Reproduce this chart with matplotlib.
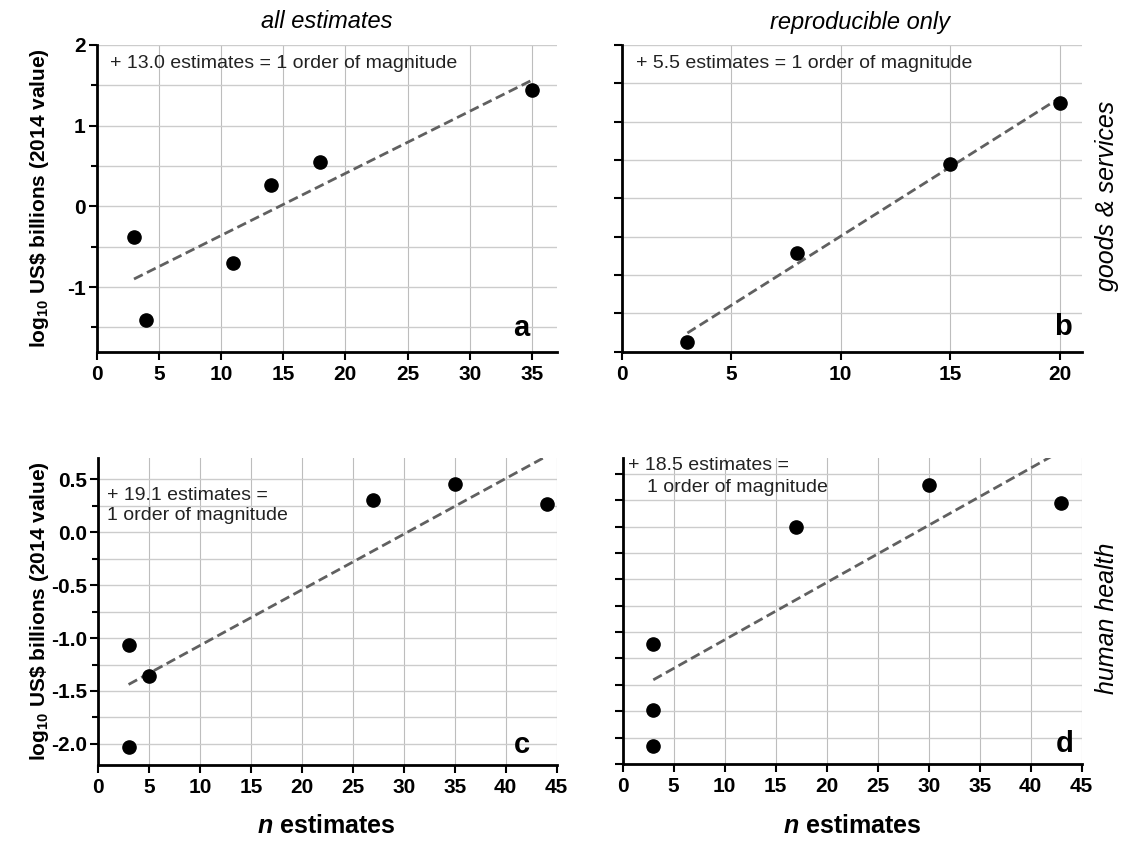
import numpy as np
import matplotlib
matplotlib.use("Agg")
import matplotlib.pyplot as plt
from matplotlib.ticker import MultipleLocator, FixedLocator, NullFormatter, FormatStrFormatter

plt.rcParams['font.family'] = ['Liberation Sans', 'DejaVu Sans']
plt.rcParams['axes.unicode_minus'] = False
plt.rcParams['mathtext.fontset'] = 'custom'
plt.rcParams['mathtext.rm'] = 'Liberation Sans:bold'
plt.rcParams['mathtext.it'] = 'Liberation Sans:italic:bold'

# data (log10 US$ billions vs number of estimates)
a_n = [3, 4, 11, 14, 18, 35]
a_val = [-0.38, -1.41, -0.70, 0.26, 0.55, 1.44]
b_n = [3, 8, 15, 20]
b_val = [-1.87, -0.71, 0.45, 1.24]
c_n = [3, 3, 5, 27, 35, 44]
c_val = [-1.07, -2.03, -1.36, 0.31, 0.46, 0.27]
d_n = [3, 3, 3, 17, 30, 43]
d_val = [-1.06, -1.69, -2.03, 0.05, 0.44, 0.27]

col_titles = ['all estimates', 'reproducible only']
row_titles = ['goods & services', 'human health']
notes = ['+ 13.0 estimates = 1 order of magnitude',
         '+ 5.5 estimates = 1 order of magnitude',
         '+ 19.1 estimates =\n1 order of magnitude',
         '+ 18.5 estimates =']
letters = ['a', 'b', 'c', 'd']

W, H = 1128, 843
fig = plt.figure(figsize=(W / 100, H / 100), dpi=100)


def px_axes(l, t, r, b):
    return fig.add_axes([l / W, 1 - b / H, (r - l) / W, (b - t) / H])


def style(ax, xmax, ylim, ymajor, yminor, ylabels):
    ax.set_xlim(0, xmax)
    ax.set_ylim(*ylim)
    for s in ['top', 'right']:
        ax.spines[s].set_visible(False)
    for s in ['left', 'bottom']:
        ax.spines[s].set_linewidth(2)
    ax.xaxis.set_major_locator(MultipleLocator(5))
    ax.yaxis.set_major_locator(FixedLocator(ymajor))
    if yminor is not None:
        ax.yaxis.set_minor_locator(FixedLocator(yminor))
    ax.tick_params(which='major', length=6, width=1.5, labelsize=15, pad=3.5)
    ax.tick_params(which='minor', length=4, width=1.5)
    ax.tick_params(axis='y', pad=2)
    for lab in ax.get_xticklabels() + ax.get_yticklabels():
        lab.set_fontweight('bold')
    if not ylabels:
        ax.yaxis.set_major_formatter(NullFormatter())
    ax.grid(True, which='both', axis='y', color='#cccccc', lw=1.0)
    ax.grid(True, which='major', axis='x', color='#bdbdbd', lw=0.8)
    ax.set_axisbelow(True)


def draw(ax, n, v):
    k, c = np.polyfit(n, v, 1)
    xs = np.array([min(n), max(n)])
    ax.plot(xs, k * xs + c, color='#606060', lw=2, ls=(0, (3.5, 1.7)), zorder=2)
    ax.plot(n, v, 'o', color='black', ms=9.5, zorder=3)


ax_a = px_axes(96.7, 45, 556.7, 351.7)
ax_b = px_axes(621.7, 45, 1081.7, 351.7)
ax_c = px_axes(98, 458.3, 556.7, 765)
ax_d = px_axes(622.7, 458, 1081.7, 764)

style(ax_a, 37, (-1.8, 2.0), [-1, 0, 1, 2], [-1.5, -0.5, 0.5, 1.5], True)
style(ax_b, 21, (-2.0, 2.0), np.arange(-2, 2.01, 0.5), None, False)
style(ax_c, 45, (-2.2, 0.7), np.arange(-2.0, 0.51, 0.5), np.arange(-2.0, 0.76, 0.25), True)
ax_c.yaxis.set_major_formatter(FormatStrFormatter('%.1f'))
for lab in ax_c.get_yticklabels():
    lab.set_fontweight('bold')
style(ax_d, 45, (-2.2, 0.7), np.arange(-2.2, 0.6, 0.25), None, False)

for ax, n, v in [(ax_a, a_n, a_val), (ax_b, b_n, b_val), (ax_c, c_n, c_val), (ax_d, d_n, d_val)]:
    draw(ax, n, v)

# annotations
note_kw = dict(fontsize=14, va='center', color='#222222')
ax_a.text(0.028, 0.94, notes[0], transform=ax_a.transAxes, **note_kw)
ax_b.text(0.030, 0.94, notes[1], transform=ax_b.transAxes, **note_kw)
ax_c.text(0.020, 0.847, notes[2], transform=ax_c.transAxes, linespacing=1.25, **note_kw)
ax_d.text(0.012, 0.977, notes[3], transform=ax_d.transAxes, **note_kw)
ax_d.text(0.053, 0.902, '1 order of magnitude', transform=ax_d.transAxes, **note_kw)

letter_pos = [(0.924, 0.077), (0.959, 0.08), (0.924, 0.065), (0.964, 0.065)]
for ax, let, (lx, ly) in zip([ax_a, ax_b, ax_c, ax_d], letters, letter_pos):
    ax.text(lx, ly, let, transform=ax.transAxes, fontsize=21, fontweight='bold', ha='center', va='center')

# outer labels
fig.text(326.7 / W, 1 - 22 / H, col_titles[0], fontsize=17, style='italic', ha='center', va='center')
fig.text(860 / W, 1 - 22 / H, col_titles[1], fontsize=17, style='italic', ha='center', va='center')
fig.text(1107 / W, 1 - 196 / H, row_titles[0], fontsize=18, style='italic', rotation=90, ha='center', va='center')
fig.text(1107 / W, 1 - 618 / H, row_titles[1], fontsize=18, style='italic', rotation=90, ha='center', va='center')

ylab = r'log$_{10}$ US\$ billions (2014 value)'
fig.text(40 / W, 1 - 198 / H, ylab, fontsize=15, fontweight='bold', rotation=90, ha='center', va='center')
fig.text(40 / W, 1 - 611 / H, ylab, fontsize=15, fontweight='bold', rotation=90, ha='center', va='center')
fig.text(326.7 / W, 1 - 826 / H, r'$n$ estimates', fontsize=18, fontweight='bold', ha='center', va='center')
fig.text(852 / W, 1 - 826 / H, r'$n$ estimates', fontsize=18, fontweight='bold', ha='center', va='center')

fig.savefig('out.png', dpi=100)
